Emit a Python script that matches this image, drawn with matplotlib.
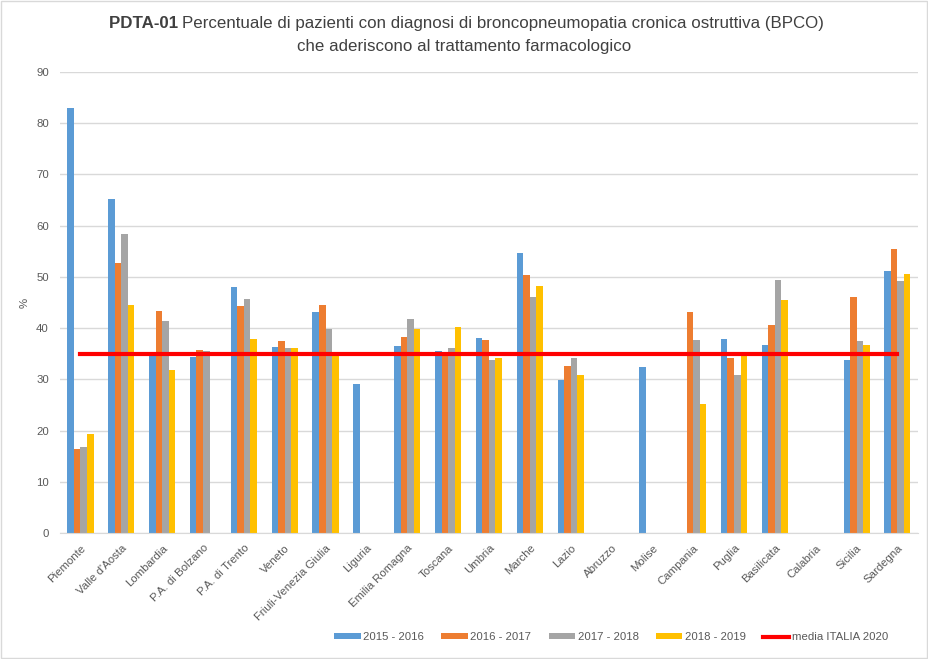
import matplotlib
matplotlib.use('Agg')
import matplotlib.pyplot as plt
from matplotlib.patches import Rectangle
import numpy as np

plt.rcParams['font.family'] = ['Liberation Sans', 'DejaVu Sans']

# regioni e valori (%), nan = dato mancante
regioni = ['Piemonte', "Valle d'Aosta", 'Lombardia', 'P.A. di Bolzano', 'P.A. di Trento',
           'Veneto', 'Friuli-Venezia Giulia', 'Liguria', 'Emilia Romagna', 'Toscana',
           'Umbria', 'Marche', 'Lazio', 'Abruzzo', 'Molise', 'Campania', 'Puglia',
           'Basilicata', 'Calabria', 'Sicilia', 'Sardegna']
nan = np.nan
v_2015 = [83.0, 65.2, 34.8, 34.4, 48.1, 36.4, 43.2, 29.0, 36.6, 35.5, 38.0,
          54.6, 29.8, nan, 32.5, nan, 37.8, 36.8, nan, 33.7, 51.1]
v_2016 = [16.4, 52.8, 43.4, 35.8, 44.4, 37.4, 44.5, nan, 38.2, 35.3, 37.6,
          50.3, 32.7, nan, nan, 43.1, 34.1, 40.7, nan, 46.0, 55.4]
v_2017 = [16.8, 58.3, 41.3, 35.6, 45.6, 36.2, 39.9, nan, 41.7, 36.2, 33.7,
          46.0, 34.1, nan, nan, 37.6, 30.8, 49.3, nan, 37.4, 49.1]
v_2018 = [19.3, 44.6, 31.9, nan, 37.9, 36.2, 34.8, nan, 39.9, 40.3, 34.1,
          48.3, 30.8, nan, nan, 25.1, 34.8, 45.4, nan, 36.8, 50.5]
media_italia = 34.9

serie = ['2015 - 2016', '2016 - 2017', '2017 - 2018', '2018 - 2019']
colori = ['#5B9BD5', '#ED7D31', '#A5A5A5', '#FFC000']
valori = [v_2015, v_2016, v_2017, v_2018]

fig = plt.figure(figsize=(9.29, 6.59), dpi=100)
ax = fig.add_axes([0.0646, 0.191, 0.9234, 0.700])

x = np.arange(len(regioni))
w = 0.16
handles = []
for k in range(4):
    b = ax.bar(x + (k - 1.5) * w, valori[k], width=w, color=colori[k], label=serie[k], zorder=2)
    handles.append(b)
ln, = ax.plot(x, [media_italia] * len(x), color='#FF0000', lw=3, label='media ITALIA 2020', zorder=3)
handles.append(ln)

ax.set_xlim(-0.5, len(regioni) - 0.5)
ax.set_ylim(0, 90)
ax.set_yticks(np.arange(0, 91, 10))
ax.grid(axis='y', color='#D9D9D9', lw=1, zorder=0)
for s in ['top', 'right', 'left']:
    ax.spines[s].set_visible(False)
ax.spines['bottom'].set_color('#D9D9D9')
ax.tick_params(axis='both', length=0, colors='#595959', labelsize=8.2)
ax.tick_params(axis='y', pad=8)
ax.set_xticks(x)
ax.set_xticklabels(regioni, rotation=45, ha='right', rotation_mode='anchor')
ax.tick_params(axis='x', pad=7)
ax.set_ylabel('%', color='#595959', fontsize=8.2)
ax.yaxis.set_label_coords(-0.036, 0.5)

# titolo con parte in grassetto
fig.canvas.draw()
r = fig.canvas.get_renderer()
fs_t = 12.2
t1 = fig.text(0, 0.965, 'PDTA-01 ', fontsize=fs_t, fontweight='bold', color='#404040', va='center')
t2 = fig.text(0, 0.965, 'Percentuale di pazienti con diagnosi di broncopneumopatia cronica ostruttiva (BPCO)',
              fontsize=fs_t, color='#404040', va='center')
w1 = t1.get_window_extent(r).width
w2 = t2.get_window_extent(r).width
x0 = (929 - (w1 + w2)) / 2 + 2
t1.set_x(x0 / 929)
t2.set_x((x0 + w1) / 929)
fig.text(0.5, 0.93, 'che aderiscono al trattamento farmacologico', fontsize=fs_t,
         color='#404040', ha='center', va='center')

ax.legend(handles, serie + ['media ITALIA 2020'], loc='center', bbox_to_anchor=(0.658, 0.033),
          bbox_transform=fig.transFigure, ncol=5, frameon=False, fontsize=8.2,
          handlelength=2.3, handleheight=0.5, columnspacing=1.5, handletextpad=0.25,
          labelcolor='#595959')

fig.patches.append(Rectangle((0.001, 0.001), 0.997, 0.997, transform=fig.transFigure,
                             fill=False, edgecolor='#D9D9D9', lw=1))

fig.savefig('out.png', dpi=100)
